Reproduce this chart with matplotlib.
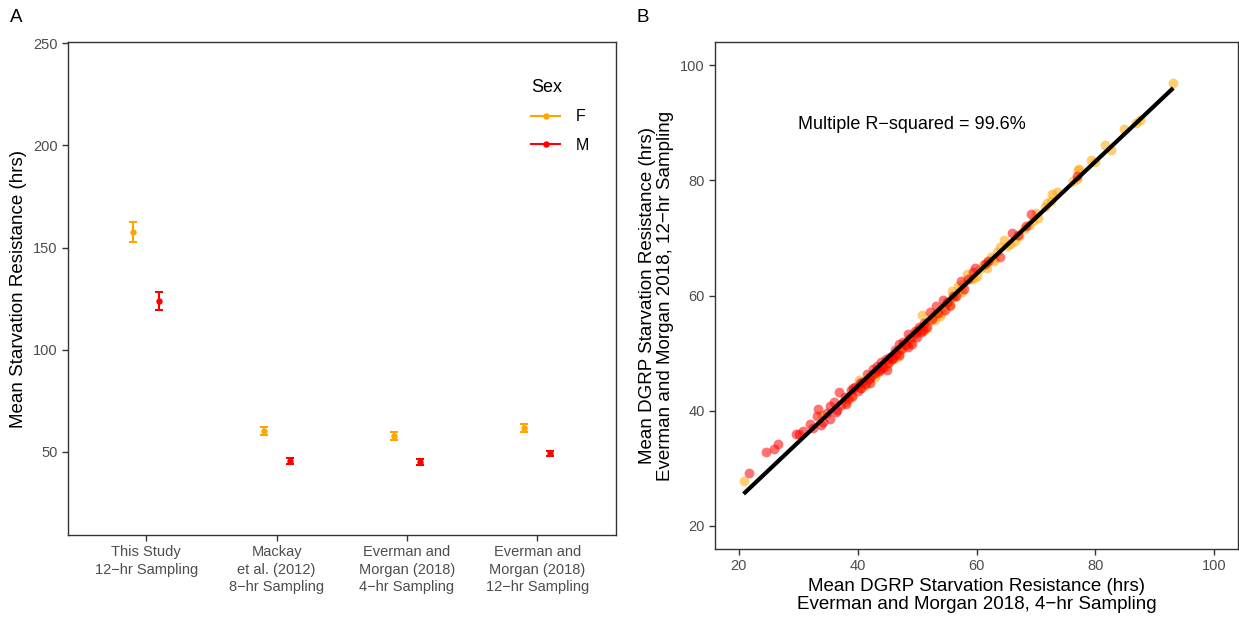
import numpy as np
import matplotlib.pyplot as plt
from matplotlib.lines import Line2D

plt.rcParams['font.family'] = ['Liberation Sans', 'DejaVu Sans']

# --- Panel A: mean starvation resistance per study ---
studies = ["This Study\n12\u2212hr Sampling",
           "Mackay\net al. (2012)\n8\u2212hr Sampling",
           "Everman and\nMorgan (2018)\n4\u2212hr Sampling",
           "Everman and\nMorgan (2018)\n12\u2212hr Sampling"]
mean_f = [157.5, 60.2, 58.0, 61.8]
err_f = [4.8, 2.0, 2.0, 2.0]
mean_m = [123.8, 45.5, 45.3, 49.4]
err_m = [4.6, 1.5, 1.5, 1.3]

# --- Panel B: DGRP line means, 4-hr vs 12-hr sampling ---
f_x = [20.8, 34.0, 38.0, 39.0, 40.2, 40.6, 41.4, 42.1, 42.8, 43.0, 43.5, 44.2, 44.8, 45.0,
       45.5, 46.1, 46.8, 47.0, 47.4, 47.9, 48.6, 49.0, 49.3, 49.8, 50.4, 50.8, 51.2, 51.5,
       52.0, 52.6, 53.0, 53.2, 53.8, 54.1, 54.6, 55.2, 55.5, 55.8, 56.4, 56.8, 57.2, 57.5,
       57.8, 58.4, 59.0, 59.5, 60.1, 60.6, 61.1, 61.7, 61.8, 62.4, 62.9, 63.0, 63.4, 64.0,
       64.7, 65.2, 65.7, 66.5, 67.2, 68.0, 68.8, 69.5, 70.0, 70.3, 71.6, 71.9, 72.6, 72.7,
       73.6, 76.2, 76.9, 77.0, 77.2, 79.2, 79.9, 81.6, 82.6, 84.9, 86.8, 87.5, 93.1]
f_y = [27.8, 39.3, 41.6, 42.3, 45.4, 44.0, 44.5, 45.6, 46.3, 45.9, 46.8, 47.4, 48.6, 47.8,
       48.7, 49.0, 50.6, 49.5, 50.7, 51.6, 52.3, 51.9, 52.8, 53.7, 54.2, 56.7, 53.9, 54.3,
       55.6, 56.3, 55.8, 56.8, 56.5, 56.9, 58.0, 58.9, 58.2, 60.8, 59.8, 61.7, 60.9, 60.6,
       62.0, 63.7, 62.8, 63.0, 63.4, 64.6, 65.3, 64.7, 65.8, 66.6, 66.0, 66.5, 67.6, 68.4,
       69.7, 68.6, 68.9, 69.5, 70.4, 71.5, 72.3, 73.0, 74.4, 73.4, 75.4, 76.0, 76.4, 77.6,
       78.0, 79.9, 80.3, 81.8, 82.0, 83.5, 83.2, 86.2, 85.3, 88.9, 90.0, 90.4, 96.9]
m_x = [21.7, 24.6, 25.9, 26.6, 29.6, 30.2, 30.8, 32.0, 32.5, 33.1, 33.3, 33.8, 34.1, 34.8,
       35.3, 35.3, 36.0, 36.3, 36.5, 36.8, 37.2, 37.8, 38.0, 38.3, 38.9, 39.0, 39.2, 39.6,
       40.1, 40.4, 40.6, 40.8, 41.2, 41.5, 41.9, 42.0, 42.3, 42.6, 43.0, 43.3, 43.6, 43.8,
       44.0, 44.3, 44.7, 44.9, 45.1, 45.4, 45.8, 46.0, 46.2, 46.5, 46.9, 47.0, 47.3, 47.7,
       48.1, 48.4, 48.5, 48.8, 49.2, 49.6, 49.9, 50.0, 50.3, 50.7, 51.0, 51.2, 51.6, 52.1,
       52.5, 53.1, 53.6, 54.3, 54.7, 55.0, 55.6, 56.1, 56.5, 57.4, 57.9, 58.6, 59.4, 59.7,
       61.5, 62.0, 64.0, 65.9, 67.0, 68.3, 69.1, 76.9]
m_y = [29.2, 32.9, 33.4, 34.2, 36.0, 36.0, 36.5, 37.7, 37.0, 39.0, 40.3, 37.5, 38.1, 39.6,
       38.5, 40.9, 41.6, 39.8, 40.2, 43.2, 41.0, 42.4, 41.2, 42.0, 43.6, 42.6, 43.9, 44.2,
       43.5, 44.8, 43.9, 45.0, 44.6, 46.3, 45.5, 44.9, 46.0, 47.3, 46.5, 47.8, 46.9, 47.2,
       48.4, 47.6, 49.0, 47.1, 48.2, 49.4, 48.9, 49.2, 50.5, 49.9, 51.6, 49.6, 50.8, 52.0,
       51.4, 53.3, 51.0, 52.6, 51.6, 53.9, 53.5, 52.8, 54.6, 53.6, 54.0, 55.3, 54.5, 57.2,
       56.0, 58.2, 56.9, 59.3, 57.5, 58.9, 58.3, 60.0, 59.9, 62.5, 61.1, 62.8, 64.0, 64.7,
       65.5, 66.0, 66.6, 70.8, 70.5, 72.1, 74.2, 80.7]

col_f = '#FFA500'
col_m = '#FF0000'
tick_col = '#4D4D4D'
frame_col = '#333333'

fig = plt.figure(figsize=(12.39, 6.17), dpi=100)
axA = fig.add_axes([0.0549, 0.1329, 0.4420, 0.7990])
axB = fig.add_axes([0.5771, 0.1102, 0.4221, 0.8217])

# --- panel A ---
pos = np.arange(len(studies))
axA.errorbar(pos - 0.1, mean_f, yerr=err_f, fmt='o', color=col_f, ms=3.6,
             elinewidth=1.5, capsize=3.2, capthick=1.5)
axA.errorbar(pos + 0.1, mean_m, yerr=err_m, fmt='o', color=col_m, ms=3.6,
             elinewidth=1.5, capsize=3.2, capthick=1.5)
axA.set_xlim(-0.6, 3.6)
axA.set_ylim(9.4, 250.5)
axA.set_yticks([50, 100, 150, 200, 250])
axA.set_xticks(pos)
axA.set_xticklabels(studies, linespacing=1.3)
axA.set_ylabel("Mean Starvation Resistance (hrs)", fontsize=13.5, labelpad=4)

handles = [Line2D([0], [0], color=col_f, marker='o', ms=3.6, lw=1.5),
           Line2D([0], [0], color=col_m, marker='o', ms=3.6, lw=1.5)]
leg = axA.legend(handles, ['F', 'M'], title='Sex', frameon=False, loc='upper left',
                 bbox_to_anchor=(0.82, 0.955), fontsize=11.5, title_fontsize=13,
                 handlelength=1.8, handletextpad=1.0, labelspacing=0.85)
leg._legend_box.align = "left"

# --- panel B ---
axB.scatter(f_x, f_y, s=50, color=col_f, alpha=0.55, linewidths=0)
axB.scatter(m_x, m_y, s=50, color=col_m, alpha=0.55, linewidths=0)
all_x = np.array(f_x + m_x)
all_y = np.array(f_y + m_y)
slope, icpt = np.polyfit(all_x, all_y, 1)
xs = np.array([all_x.min(), all_x.max()])
axB.plot(xs, icpt + slope * xs, color='black', lw=3.0, solid_capstyle='butt')
axB.set_xlim(16, 104)
axB.set_ylim(16, 104)
axB.set_xticks([20, 40, 60, 80, 100])
axB.set_yticks([20, 40, 60, 80, 100])
axB.text(30, 89.6, "Multiple R\u2212squared = 99.6%", fontsize=13, va='center', ha='left')
axB.set_xlabel("Mean DGRP Starvation Resistance (hrs)\nEverman and Morgan 2018, 4\u2212hr Sampling",
               fontsize=13.5, linespacing=1.12, labelpad=3)
axB.set_ylabel("Mean DGRP Starvation Resistance (hrs)\nEverman and Morgan 2018, 12\u2212hr Sampling",
               fontsize=13.5, linespacing=1.12, labelpad=4)

for ax in (axA, axB):
    for sp in ax.spines.values():
        sp.set_color(frame_col)
        sp.set_linewidth(1.0)
    ax.tick_params(colors=frame_col, labelcolor=tick_col, labelsize=10.5, length=4, width=1)

fig.text(0.008, 0.972, "A", fontsize=13.5, va='center')
fig.text(0.514, 0.972, "B", fontsize=13.5, va='center')

fig.savefig('out.png', dpi=100)
